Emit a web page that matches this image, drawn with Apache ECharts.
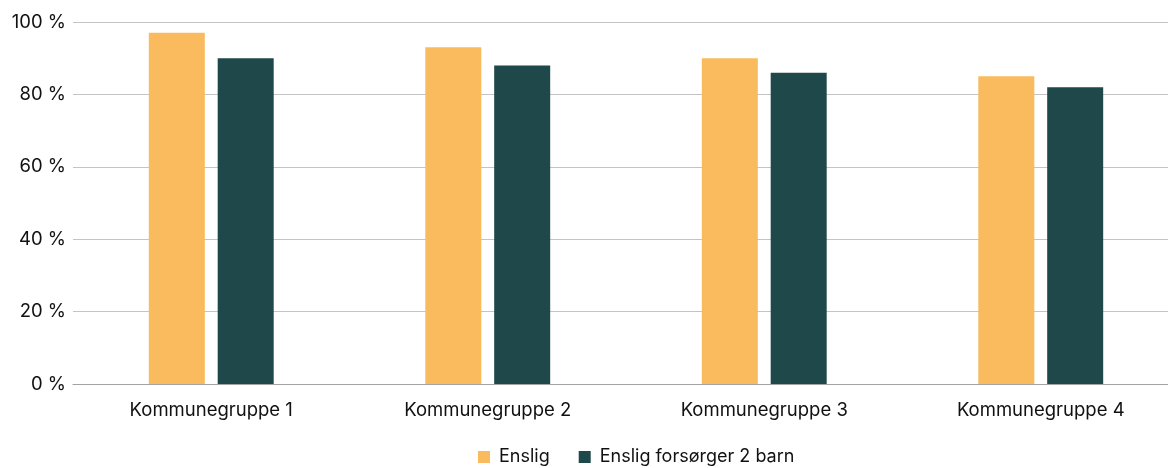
<!DOCTYPE html>
<html>
<head>
<meta charset="utf-8">
<script src="https://cdn.jsdelivr.net/npm/echarts@6/dist/echarts.min.js"></script>
<style>
html, body { margin: 0; padding: 0; background: #fff; }
#chart { width: 1168px; height: 468px; }
</style>
</head>
<body>
<div id="chart"></div>
<script>
// data
var categories = ['Kommunegruppe 1', 'Kommunegruppe 2', 'Kommunegruppe 3', 'Kommunegruppe 4'];
var enslig = [97, 93, 90, 85];
var forsorger = [90, 88, 86, 82];
var seriesNames = ['Enslig', 'Enslig forsørger 2 barn'];

var FONT = 'Inter, "Liberation Sans", sans-serif';

var myChart = echarts.init(document.getElementById('chart'), null, { renderer: 'canvas' });

var option = {
	animation: false,
	textStyle: { fontFamily: FONT },
	// plot runs past the right edge of the picture, as in the original crop
	grid: { left: 73, width: 1106, top: 22, bottom: 84, containLabel: false, outerBoundsMode: 'none' },
	legend: {
		bottom: 2,
		left: 478,
		padding: 0,
		itemWidth: 12,
		itemHeight: 12,
		itemGap: 29,
		icon: 'rect',
		textStyle: { fontSize: 18, color: '#111', fontFamily: FONT, padding: [0, 0, 0, 4] },
		data: seriesNames
	},
	xAxis: {
		type: 'category',
		data: categories,
		axisLine: { lineStyle: { color: '#a3a3a3', width: 1 } },
		axisTick: { show: false },
		axisLabel: { fontSize: 18.5, color: '#111', margin: 17, fontFamily: FONT }
	},
	yAxis: {
		type: 'value',
		min: 0,
		max: 100,
		interval: 20,
		axisLine: { show: false },
		axisTick: { show: false },
		axisLabel: {
			fontSize: 18.5, color: '#111', margin: 7, fontFamily: FONT,
			formatter: function (v) { return v + ' %'; }
		},
		splitLine: { lineStyle: { color: '#c4c4c4', width: 1 } }
	},
	series: [{
		name: seriesNames[0],
		type: 'bar',
		data: enslig,
		barWidth: 56,
		barGap: '23%',
		itemStyle: { color: '#F9BB5D' }
	}, {
		name: seriesNames[1],
		type: 'bar',
		data: forsorger,
		barWidth: 56,
		itemStyle: { color: '#1E4849' }
	}]
};

myChart.setOption(option);
</script>
</body>
</html>
